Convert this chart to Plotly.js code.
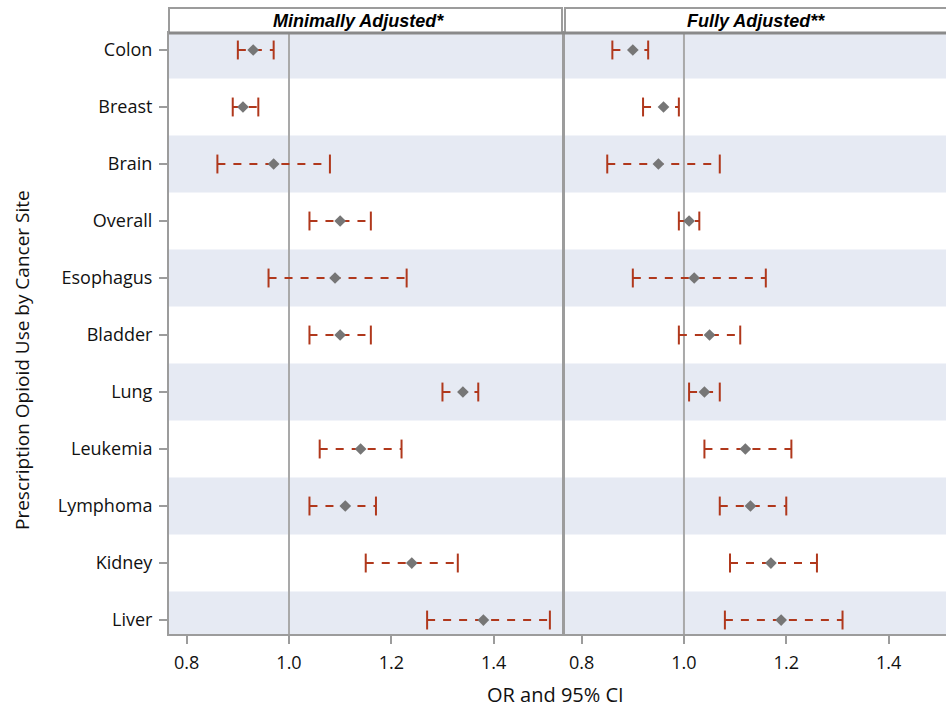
<!DOCTYPE html>
<html><head><meta charset="utf-8">
<script src="https://cdn.plot.ly/plotly-3.0.1.min.js"></script>
<style>body{margin:0;background:#fff}</style>
</head><body><div id="chart" style="width:946px;height:711px"></div>
<script>
const sites = ["Colon","Breast","Brain","Overall","Esophagus","Bladder","Lung","Leukemia","Lymphoma","Kidney","Liver"];
const minOR = [0.93,0.91,0.97,1.10,1.09,1.10,1.34,1.14,1.11,1.24,1.38];
const minLo = [0.90,0.89,0.86,1.04,0.96,1.04,1.30,1.06,1.04,1.15,1.27];
const minHi = [0.97,0.94,1.08,1.16,1.23,1.16,1.37,1.22,1.17,1.33,1.51];
const fullOR = [0.90,0.96,0.95,1.01,1.02,1.05,1.04,1.12,1.13,1.17,1.19];
const fullLo = [0.86,0.92,0.85,0.99,0.90,0.99,1.01,1.04,1.07,1.09,1.08];
const fullHi = [0.93,0.99,1.07,1.03,1.16,1.11,1.07,1.21,1.20,1.26,1.31];
const panelTitles = ["Minimally Adjusted*","Fully Adjusted**"];
const xTicks = [0.8,1.0,1.2,1.4];
const xTickText = ["0.8","1.0","1.2","1.4"];
const refValue = 1.0;
const xTitle = "OR and 95% CI";
const yTitle = "Prescription Opioid Use by Cancer Site";

const RED = "#B0381C", GREY = "#767676", FRAME = "#9c9c9c", BAND = "#E6EAF3";
const FONT = "Open Sans, Noto Sans, sans-serif";

function panel(or, lo, hi, xa, ya) {
  const lx = [], ly = [];
  for (let i = 0; i < sites.length; i++) { lx.push(lo[i], hi[i], null); ly.push(sites[i], sites[i], null); }
  return [
    {type:"scatter", mode:"lines", x:lx, y:ly, xaxis:xa, yaxis:ya, hoverinfo:"skip",
     line:{color:RED, width:2, dash:"8px,8px"}, showlegend:false},
    {type:"scatter", mode:"markers", x:lo.concat(hi), y:sites.concat(sites), xaxis:xa, yaxis:ya,
     marker:{symbol:"line-ns", size:13.5, line:{color:RED, width:2}}, showlegend:false},
    {type:"scatter", mode:"markers", x:or, y:sites, xaxis:xa, yaxis:ya,
     marker:{symbol:"diamond", size:9, color:GREY}, showlegend:false}
  ];
}
const data = panel(minOR, minLo, minHi, "x", "y").concat(panel(fullOR, fullLo, fullHi, "x2", "y2"));

const shapes = [];
for (let i = 0; i < sites.length; i += 2) {
  shapes.push({type:"rect", xref:"paper", yref:"y", x0:0, x1:1, y0:i-0.5, y1:i+0.5,
    fillcolor:BAND, line:{width:0}, layer:"below"});
}
["x","x2"].forEach(function(xa){
  shapes.push({type:"line", xref:xa, yref:"paper", x0:refValue, x1:refValue, y0:0, y1:1,
    line:{color:"#a9a9a9", width:2}, layer:"below"});
});
const hdr = 1 + 25/601;
shapes.push({type:"rect", xref:"x domain", yref:"paper", x0:0, x1:1, y0:1, y1:hdr,
  fillcolor:"#fff", line:{color:FRAME, width:2}});
shapes.push({type:"rect", xref:"x2 domain", yref:"paper", x0:0, x1:1.05, y0:1, y1:hdr,
  fillcolor:"#fff", line:{color:FRAME, width:2}});
shapes.push({type:"line", xref:"paper", yref:"paper", x0:0, x1:1, y0:1, y1:1,
  line:{color:"#8a8a8a", width:3}});

const hdrFont = {family:"Liberation Sans, Arial, sans-serif", size:18, color:"#000"};
const annotations = [
  {text:"<b><i>"+panelTitles[0]+"</i></b>", xref:"x domain", yref:"paper", x:0.5, y:(1+hdr)/2,
   xanchor:"center", yanchor:"middle", xshift:-7, showarrow:false, font:hdrFont},
  {text:"<b><i>"+panelTitles[1]+"</i></b>", xref:"x2 domain", yref:"paper", x:0.5, y:(1+hdr)/2,
   xanchor:"center", yanchor:"middle", showarrow:false, font:hdrFont},
  {text:xTitle, xref:"paper", yref:"paper", x:0.497, y:0, yshift:-60, yanchor:"middle",
   showarrow:false, font:{family:FONT, size:20, color:"#111"}},
  {text:yTitle, xref:"paper", yref:"paper", x:-147/777, y:(634-360)/601, textangle:-90,
   xanchor:"center", yanchor:"middle", showarrow:false, font:{family:FONT, size:19, color:"#111"}}
];

const xBase = {type:"linear", tickvals:xTicks, ticktext:xTickText, ticks:"outside", ticklen:8,
  tickwidth:2, tickcolor:FRAME, showgrid:false, zeroline:false, showline:true, linecolor:FRAME,
  linewidth:2, mirror:true, ticklabelstandoff:3, tickfont:{family:FONT, size:18, color:"#111"}, fixedrange:true};
const layout = {
  width:946, height:711, margin:{l:169, r:0, t:33, b:77},
  paper_bgcolor:"#fff", plot_bgcolor:"rgba(0,0,0,0)", showlegend:false,
  xaxis:Object.assign({}, xBase, {domain:[0, 393/777], range:[0.7654, 1.5337], anchor:"y"}),
  xaxis2:Object.assign({}, xBase, {domain:[396/777, 1], range:[0.7674, 1.5123], anchor:"y2"}),
  yaxis:{type:"category", categoryorder:"array", categoryarray:sites, range:[10.245, -0.298],
    ticks:"outside", ticklen:8, tickwidth:2, tickcolor:FRAME, showgrid:false, zeroline:false,
    showline:true, linecolor:FRAME, linewidth:2, mirror:true, anchor:"x", ticklabelstandoff:3,
    tickfont:{family:FONT, size:18, color:"#111"}, fixedrange:true},
  yaxis2:{type:"category", categoryorder:"array", categoryarray:sites, range:[10.245, -0.298],
    matches:"y", showticklabels:false, ticks:"", showgrid:false, zeroline:false,
    showline:true, linecolor:FRAME, linewidth:2, mirror:false, anchor:"x2", fixedrange:true},
  shapes:shapes, annotations:annotations
};
Plotly.newPlot("chart", data, layout, {displayModeBar:false, staticPlot:true});
</script></body></html>
